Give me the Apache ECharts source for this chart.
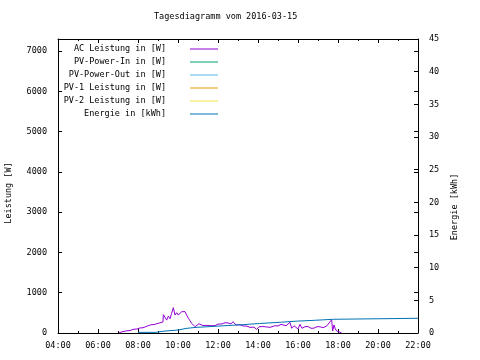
<!DOCTYPE html>
<html><head><meta charset="utf-8">
<script src="https://cdn.jsdelivr.net/npm/echarts@6/dist/echarts.min.js"></script>
<style>html,body{margin:0;padding:0;background:#fff}#c{width:480px;height:360px}</style>
</head><body><div id="c"></div>
<script>
const chartTitle = 'Tagesdiagramm vom 2016-03-15';
const seriesNames = ['AC Leistung in [W]', 'PV-Power-In in [W]', 'PV-Power-Out in [W]', 'PV-1 Leistung in [W]', 'PV-2 Leistung in [W]', 'Energie in [kWh]'];
const seriesColors = ['#9400D3', '#009E73', '#56B4E9', '#E69F00', '#F0E442', '#0072B2'];
const leftAxisName = 'Leistung [W]';
const rightAxisName = 'Energie [kWh]';

const acTimes = ['07:03','07:12','07:27','07:36','07:45','07:57','08:06','08:15','08:24','08:30','08:39','08:48','08:54','09:03','09:09','09:15','09:16','09:21','09:26','09:31','09:36','09:41','09:46','09:51','09:56','10:01','10:06','10:11','10:16','10:21','10:26','10:31','10:36','10:41','10:46','10:51','10:57','11:03','11:06','11:15','11:27','11:39','11:51','12:00','12:12','12:21','12:30','12:39','12:45','12:54','13:06','13:15','13:27','13:36','13:48','13:56','14:03','14:15','14:27','14:36','14:42','14:51','15:00','15:09','15:15','15:24','15:36','15:41','15:48','15:54','16:00','16:06','16:12','16:21','16:30','16:39','16:48','16:57','17:06','17:15','17:21','17:27','17:33','17:36','17:41','17:44','17:48','17:52','17:56','18:00','18:06','18:11'];
const acPower = [0,30,55,60,90,100,125,130,160,165,205,210,240,245,270,275,455,390,320,420,355,490,630,445,505,445,490,530,515,530,445,365,305,240,200,157,175,230,200,185,190,180,185,220,225,255,250,225,280,200,205,175,170,140,145,90,155,160,150,140,157,180,175,215,240,180,265,117,180,175,100,215,117,157,160,117,120,157,155,130,135,180,175,280,330,50,200,100,50,75,17,0];

const energyTimes = ['08:00','08:53','09:21','10:00','10:24','10:51','12:00','13:06','14:04','15:10','15:58','16:53','17:46','22:00'];
const energyValues = [0.1,0.3,0.45,0.7,0.85,1.05,1.25,1.45,1.65,1.82,1.95,2.1,2.25,2.25];

const xTickMin = 4, xTickMax = 22, xTickStep = 2;
const wMax = 7300, wStep = 1000;
const kwhMax = 45, kwhStep = 5;

function toHours(s){ const p = s.split(':'); return +p[0] + (+p[1])/60; }
const font = 'DejaVu Sans Mono';
const fs = 8.5;

const acData = acTimes.map((t,i)=>[toHours(t), acPower[i]]);
const enData = energyTimes.map((t,i)=>[toHours(t), energyValues[i]]);

const axisLineStyle = {color:'#000', width:1};
const xAxisBase = {
  type:'value', min:xTickMin, max:xTickMax, interval:xTickStep,
  axisLine:{show:true, onZero:false, lineStyle:axisLineStyle},
  axisTick:{show:true, inside:true, length:4, lineStyle:axisLineStyle},
  minorTick:{show:true, splitNumber:2, length:2, lineStyle:axisLineStyle},
  splitLine:{show:false}
};

const series = seriesNames.map((n,i)=>({
  name:n, type:'line', showSymbol:false, symbol:'none', smooth:false,
  lineStyle:{width:1, color:seriesColors[i]}, itemStyle:{color:seriesColors[i]},
  animation:false, data:[]
}));
series[0].data = acData;
series[5].data = enData;
series[5].yAxisIndex = 1;
series[5].step = 'end';

const legends = seriesNames.map((n,i)=>({
  data:[n], right:262, top:44 + 13*i, align:'right', orient:'horizontal',
  icon:'rect', itemWidth:28, itemHeight:1, padding:0, selectedMode:false,
  textStyle:{fontFamily:font, fontSize:fs, color:'#000', lineHeight:10, padding:[0,19,0,0]}
}));

const plain = v => String(v);

const chart = echarts.init(document.getElementById('c'), null, {renderer:'canvas'});
chart.setOption({
  animation:false,
  backgroundColor:'#fff',
  title:{text:chartTitle, left:154, top:12, padding:0, textStyle:{fontFamily:font, fontSize:fs, fontWeight:'normal', color:'#000'}},
  legend:legends,
  grid:{left:58, right:62, top:39, bottom:27, containLabel:false, outerBoundsMode:'none'},
  xAxis:[
    Object.assign({}, xAxisBase, {position:'bottom',
      axisLabel:{show:true, margin:8, fontFamily:font, fontSize:fs, color:'#000',
        formatter:v=>String(v).padStart(2,'0')+':00'}}),
    Object.assign({}, xAxisBase, {position:'top', axisLabel:{show:false}})
  ],
  yAxis:[
    {type:'value', position:'left', min:0, max:wMax, interval:wStep,
      name:leftAxisName, nameLocation:'middle', nameRotate:90, nameGap:45,
      nameTextStyle:{fontFamily:font, fontSize:fs, color:'#000', padding:[0,14,0,0]},
      axisLine:{show:true, lineStyle:axisLineStyle},
      axisTick:{show:true, inside:true, length:4, lineStyle:axisLineStyle},
      axisLabel:{margin:11, fontFamily:font, fontSize:fs, color:'#000', showMaxLabel:false, formatter:plain},
      splitLine:{show:false}},
    {type:'value', position:'right', min:0, max:kwhMax, interval:kwhStep,
      name:rightAxisName, nameLocation:'middle', nameRotate:90, nameGap:32,
      nameTextStyle:{fontFamily:font, fontSize:fs, color:'#000', padding:[0,42,0,0]},
      axisLine:{show:true, lineStyle:axisLineStyle},
      axisTick:{show:true, inside:true, length:4, lineStyle:axisLineStyle},
      axisLabel:{margin:11, fontFamily:font, fontSize:fs, color:'#000', formatter:plain},
      splitLine:{show:false}},
    {type:'value', position:'right', min:0, max:wMax, interval:wStep,
      axisLine:{show:false},
      axisTick:{show:true, inside:true, length:4, lineStyle:axisLineStyle},
      axisLabel:{show:false}, splitLine:{show:false}}
  ],
  series:series
});
</script>
</body></html>
